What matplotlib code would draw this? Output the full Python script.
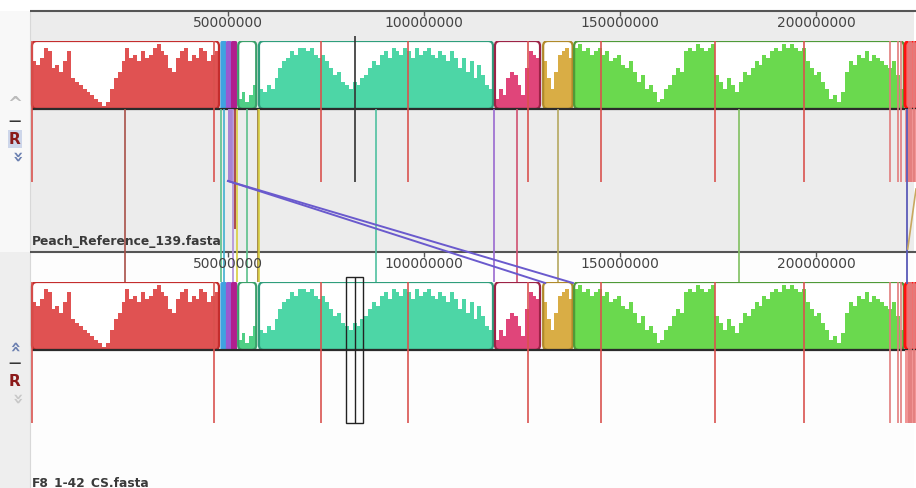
import numpy as np
import matplotlib
matplotlib.use('Agg')
import matplotlib.pyplot as plt
from matplotlib.patches import FancyBboxPatch, Rectangle

# genome alignment view (two genomes), x in Mbp

W, H = 916, 489
X0_PX, PX_PER_MB = 32, 3.92
XMIN = -X0_PX / PX_PER_MB
XMAX = (W - X0_PX) / PX_PER_MB

tick_mb = [50, 100, 150, 200]
tick_labels = ['50000000', '100000000', '150000000', '200000000']
genome_names = ['Peach_Reference_139.fasta', 'F8_1-42_CS.fasta']

# blocks: start, end (Mbp)
red_block = (0.0, 47.7)
red_vals = [0.7, 0.65, 0.75, 0.9, 0.85, 0.6, 0.65, 0.55, 0.7, 0.85,
            0.45, 0.4, 0.35, 0.3, 0.25, 0.2, 0.15, 0.1, 0.05, 0.1,
            0.3, 0.45, 0.55, 0.7, 0.9, 0.75, 0.8, 0.7, 0.85, 0.75,
            0.8, 0.9, 0.95, 0.85, 0.8, 0.6, 0.55, 0.75, 0.85, 0.9,
            0.7, 0.8, 0.75, 0.9, 0.85, 0.7, 0.8, 0.85]
small_green_block = (52.6, 57.2)
small_green_vals = [0.15, 0.25, 0.1, 0.2, 0.35]
teal_block = (57.9, 117.6)
teal_vals = [0.3, 0.25, 0.35, 0.3, 0.45,
             0.6, 0.7, 0.75, 0.85, 0.8, 0.9,
             0.9, 0.85, 0.9, 0.8, 0.75, 0.8, 0.7,
             0.6, 0.5, 0.55, 0.4, 0.35, 0.3,
             0.4, 0.35, 0.45, 0.5,
             0.6, 0.7, 0.65,
             0.8, 0.85, 0.75, 0.9, 0.85, 0.8, 0.9, 0.85, 0.75, 0.9,
             0.8, 0.85, 0.9, 0.8, 0.75, 0.85, 0.8, 0.7, 0.85, 0.75,
             0.6, 0.75, 0.55, 0.7, 0.45, 0.65, 0.5, 0.35, 0.3]
crimson_block = (118.1, 129.6)
crimson_vals = [0.15, 0.3, 0.2, 0.45, 0.55, 0.5, 0.35, 0.2, 0.6, 0.85, 0.8, 0.75]
gold_block = (130.4, 137.9)
gold_vals = [0.7, 0.45, 0.3, 0.55, 0.8, 0.85, 0.9, 0.75]
green_block = (138.3, 222.4)
green_vals = [0.9, 0.95, 0.85, 0.9, 0.8, 0.85, 0.9,
              0.8, 0.85, 0.7, 0.75, 0.8, 0.65, 0.6, 0.7, 0.55,
              0.4, 0.5, 0.3, 0.35, 0.25, 0.1,
              0.15, 0.3, 0.35, 0.5, 0.6, 0.55,
              0.85, 0.9, 0.85, 0.95, 0.9, 0.85, 0.9, 0.95,
              0.5, 0.4, 0.3, 0.45, 0.35, 0.25,
              0.4, 0.55, 0.5, 0.6, 0.7, 0.65, 0.8, 0.75, 0.85,
              0.9, 0.85, 0.95, 0.9, 0.95, 0.9, 0.85, 0.9,
              0.7, 0.6, 0.5, 0.55, 0.4, 0.3,
              0.15, 0.2, 0.1, 0.25,
              0.55, 0.7, 0.65, 0.8, 0.75, 0.85, 0.7, 0.8, 0.75, 0.7, 0.65,
              0.6, 0.7, 0.5, 0.3]
thin_blocks = [(48.2, 49.6, '#3fa3e0'), (49.6, 50.9, '#9b59d0'), (50.9, 52.2, '#b01e8e')]
end_block = (222.7, 228.0)

# contig boundaries (Mbp)
contig_breaks = [0.0, 46.4, 73.7, 95.9, 126.5, 145.2, 174.2, 196.9]
contig_breaks_end = [218.9, 220.9, 221.7, 223.6, 224.3, 225.0]
cursor_mb = 82.4

# lines joining the two genomes
lcb_lines = [(23.7, '#a85048'), (48.2, '#5cc08a'), (49.0, '#40b0d0'), (51.3, '#b090d8'),
             (52.3, '#d8d040'), (54.8, '#5cc08a'), (57.7, '#9a7a30'), (57.9, '#d8d040'),
             (87.8, '#4fc0a0'), (117.9, '#9a6ad0'), (123.7, '#d05070'), (134.2, '#b5a860'),
             (180.4, '#80c060')]
moved_from = 50.0
moved_to = [130.9, 138.0]

fig = plt.figure(figsize=(9.16, 4.89), dpi=100)


def full_axes(z):
    ax = fig.add_axes([0, 0, 1, 1], zorder=z)
    ax.set_xlim(XMIN, XMAX)
    ax.set_ylim(H, 0)
    ax.axis('off')
    ax.patch.set_alpha(0)
    return ax


under = full_axes(0)
over = full_axes(5)
left_edge = -2 / PX_PER_MB

# backgrounds
under.add_patch(Rectangle((left_edge, 12), XMAX, 241, fc='#ececec', ec='none'))
under.add_patch(Rectangle((XMIN, 12), left_edge - XMIN, 241, fc='#f8f8f8', ec='none'))
under.add_patch(Rectangle((left_edge, 253), XMAX, 236, fc='#fdfdfd', ec='none'))
under.add_patch(Rectangle((XMIN, 253), left_edge - XMIN, 236, fc='#eeeeee', ec='none'))
under.vlines(left_edge, 12, H, color='#d8d8d8', lw=0.8)

RS = 5 / PX_PER_MB
ASP = PX_PER_MB / 68


def draw_block(ax, span, vals, fill, edge, lw=1.6):
    start, end = span
    r = min(RS, (end - start) / 2.5)
    style = 'round,pad=0,rounding_size=%.3f' % r
    face = FancyBboxPatch((start, 0), end - start, 1, boxstyle=style,
                          mutation_aspect=ASP, fc='white', ec='none')
    ax.add_patch(face)
    n = len(vals)
    w = (end - start) / n
    x = start + w * (np.arange(n) + 0.5)
    bars = ax.bar(x, vals, width=w * 1.02, color=fill, linewidth=0)
    for b in bars:
        b.set_clip_path(face)
    ax.add_patch(FancyBboxPatch((start, 0), end - start, 1, boxstyle=style,
                                mutation_aspect=ASP, fc='none', ec=edge, lw=lw))


for g, off in enumerate([0, 241]):
    top, base = 42 + off, 110 + off
    ax = fig.add_axes([0, 1 - base / H, 1, 68 / H], zorder=2)
    ax.set_xlim(XMIN, XMAX)
    ax.set_ylim(0, 1)
    ax.axis('off')
    ax.patch.set_alpha(0)
    ax.hlines(0, 0, XMAX, color='#2b2b2b', lw=1.6, clip_on=False)
    draw_block(ax, red_block, red_vals, '#e05252', '#c42d2d')
    for s, e, c in thin_blocks:
        draw_block(ax, (s, e), [1.0], c, c, lw=0.8)
    draw_block(ax, small_green_block, small_green_vals, '#4fcf85', '#3aa06a')
    draw_block(ax, teal_block, teal_vals, '#4dd6a6', '#2f9e7c')
    draw_block(ax, crimson_block, crimson_vals, '#e0457a', '#9c2346')
    draw_block(ax, gold_block, gold_vals, '#d9ad45', '#b08a2a')
    draw_block(ax, green_block, green_vals, '#6ad94e', '#4f9a38')
    draw_block(ax, end_block, [1.0], '#f07070', '#ff1010', lw=2)

    # ruler
    ruler = 12 + off
    over.hlines(ruler, left_edge, XMAX, color='#555555', lw=1.5)
    over.vlines(tick_mb, ruler, ruler + 5, color='#555555', lw=1)
    for m, lab in zip(tick_mb, tick_labels):
        over.text(m, ruler + 11, lab, ha='center', va='center', fontsize=10,
                  color='#444444', zorder=6)

    # contig boundaries
    over.vlines(contig_breaks, top, base + 73, color='#d9534f', lw=1.2)
    over.vlines(contig_breaks_end, top, base + 73, color='#e27c7c', lw=1.2)
    over.add_patch(Rectangle((end_block[0], base), XMAX - end_block[0], 73,
                             fc='#f08a8a', ec='none', alpha=0.9))

    over.text(0, 242 + off, genome_names[g], ha='left', va='center', fontsize=8.8,
              fontweight='bold', color='#3a3a3a')

# lines between genomes
for m, c in lcb_lines:
    over.vlines(m, 110, 283, color=c, lw=1.2)
over.add_patch(Rectangle((50.0, 110), 1.3, 72, fc='#a784d4', ec='none'))
over.vlines(51.8, 110, 230, color='#a03030', lw=1.2)
over.vlines(82.4, 37, 183, color='#333333', lw=1.2)
over.vlines(223.2, 110, 285, color='#5a5ab8', lw=1.3)
over.plot([XMAX, 223.4], [190, 250], color='#c8a860', lw=1.2)
for m in moved_to:
    over.plot([moved_from, m], [182, 284], color='#6a5acd', lw=1.4)

# selection cursor on lower genome
over.add_patch(Rectangle((80.1, 278), 4.3, 146, fc='none', ec='#222222', lw=1))
over.vlines(cursor_mb, 278, 424, color='#222222', lw=1)


# left controls
def px(x, y):
    return x / W, 1 - y / H


fig.text(*px(15, 104), '^', ha='center', va='center', fontsize=13, fontweight='bold', color='#bbbbbb')
fig.text(*px(15, 122), '\u2014', ha='center', va='center', fontsize=9, fontweight='bold', color='#333333')
fig.text(*px(15, 140), 'R', ha='center', va='center', fontsize=11, fontweight='bold', color='#8b1a1a',
         bbox=dict(boxstyle='square,pad=0.1', fc='#cdd6ea', ec='none'))
fig.text(*px(15, 157), '\u00bb', ha='center', va='center', fontsize=13, fontweight='bold',
         color='#6a7fb0', rotation=-90)
fig.text(*px(15, 345), '\u00bb', ha='center', va='center', fontsize=13, fontweight='bold',
         color='#6a7fb0', rotation=90)
fig.text(*px(15, 363), '\u2014', ha='center', va='center', fontsize=9, fontweight='bold', color='#333333')
fig.text(*px(15, 381), 'R', ha='center', va='center', fontsize=11, fontweight='bold', color='#8b1a1a')
fig.text(*px(15, 399), '\u00bb', ha='center', va='center', fontsize=13, fontweight='bold',
         color='#c8c8c8', rotation=-90)

fig.savefig('out.png', dpi=100)
